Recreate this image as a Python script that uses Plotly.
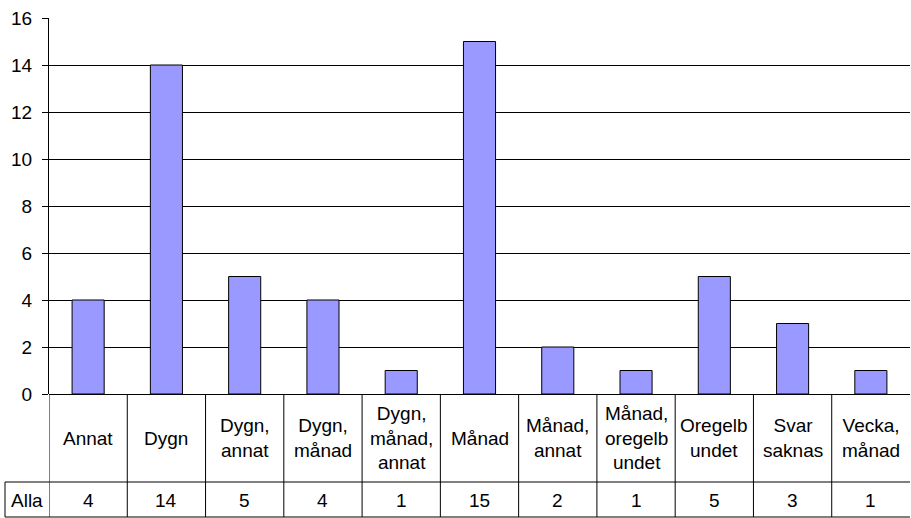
import plotly.graph_objects as go

categories = ["Annat", "Dygn", "Dygn, annat", "Dygn, månad", "Dygn, månad, annat",
              "Månad", "Månad, annat", "Månad, oregelbundet", "Oregelbundet",
              "Svar saknas", "Vecka, månad"]
table_labels = ["Annat", "Dygn", "Dygn,<br>annat", "Dygn,<br>månad", "Dygn,<br>månad,<br>annat",
                "Månad", "Månad,<br>annat", "Månad,<br>oregelb<br>undet", "Oregelb<br>undet",
                "Svar<br>saknas", "Vecka,<br>månad"]
series_name = "Alla"
values = [4, 14, 5, 4, 1, 15, 2, 1, 5, 3, 1]
y_ticks = [0, 2, 4, 6, 8, 10, 12, 14, 16]

W, H = 911, 518
L, R, T, B = 49, 1, 18, 124
plot_w = W - L - R
plot_h = H - T - B
FONT = "Arial, Liberation Sans, sans-serif"
FS = 19

def py(px_y):
    return (H - B - px_y) / plot_h

def pxx(px_x):
    return (px_x - L) / plot_w

fig = go.Figure()
fig.add_trace(go.Bar(
    x=list(range(len(categories))), y=values, name=series_name,
    marker=dict(color="#9999FF", line=dict(color="black", width=1)),
    hoverinfo="y",
))

shapes = []
n = len(categories)
for i in range(n):
    shapes.append(dict(type="line", xref="x", yref="paper", x0=i - 0.5, x1=i - 0.5,
                       y0=0, y1=py(517), line=dict(color="black", width=1)))
for yy in (482, 517):
    shapes.append(dict(type="line", xref="paper", yref="paper", x0=pxx(5), x1=1,
                       y0=py(yy), y1=py(yy), line=dict(color="black", width=1)))
shapes.append(dict(type="line", xref="paper", yref="paper", x0=pxx(5), x1=pxx(5),
                   y0=py(482), y1=py(517), line=dict(color="black", width=1)))

annotations = []
for i, (lab, v) in enumerate(zip(table_labels, values)):
    annotations.append(dict(x=i, y=py(438), xref="x", yref="paper", text=lab,
                            showarrow=False, font=dict(size=FS, color="black", family=FONT),
                            xanchor="center", yanchor="middle"))
    annotations.append(dict(x=i, y=py(500), xref="x", yref="paper", text=str(v),
                            showarrow=False, font=dict(size=FS, color="black", family=FONT),
                            xanchor="center", yanchor="middle"))
annotations.append(dict(x=pxx(27), y=py(500), xref="paper", yref="paper", text=series_name,
                        showarrow=False, font=dict(size=FS, color="black", family=FONT),
                        xanchor="center", yanchor="middle"))

fig.update_layout(
    width=W, height=H,
    margin=dict(l=L, r=R, t=T, b=B, pad=0, autoexpand=False),
    paper_bgcolor="white", plot_bgcolor="white",
    showlegend=False,
    bargap=0.59,
    font=dict(family=FONT, size=FS, color="black"),
    xaxis=dict(range=[-0.5, n - 0.5], showticklabels=False, showgrid=False,
               zeroline=False, showline=False, ticks="", automargin=False),
    yaxis=dict(range=[0, 16], tickvals=y_ticks, ticktext=[str(t) for t in y_ticks],
               showgrid=True, gridcolor="black", gridwidth=1,
               zeroline=True, zerolinecolor="black", zerolinewidth=1,
               showline=True, linecolor="black", linewidth=1,
               ticks="outside", ticklen=6, tickcolor="black", automargin=False,
               ticklabelstandoff=6,
               tickfont=dict(size=FS, family=FONT, color="black")),
    shapes=shapes,
    annotations=annotations,
)

fig.write_html("out.html", config={"displayModeBar": False},
               post_script="document.body.style.margin='0';document.body.style.overflow='hidden';")
